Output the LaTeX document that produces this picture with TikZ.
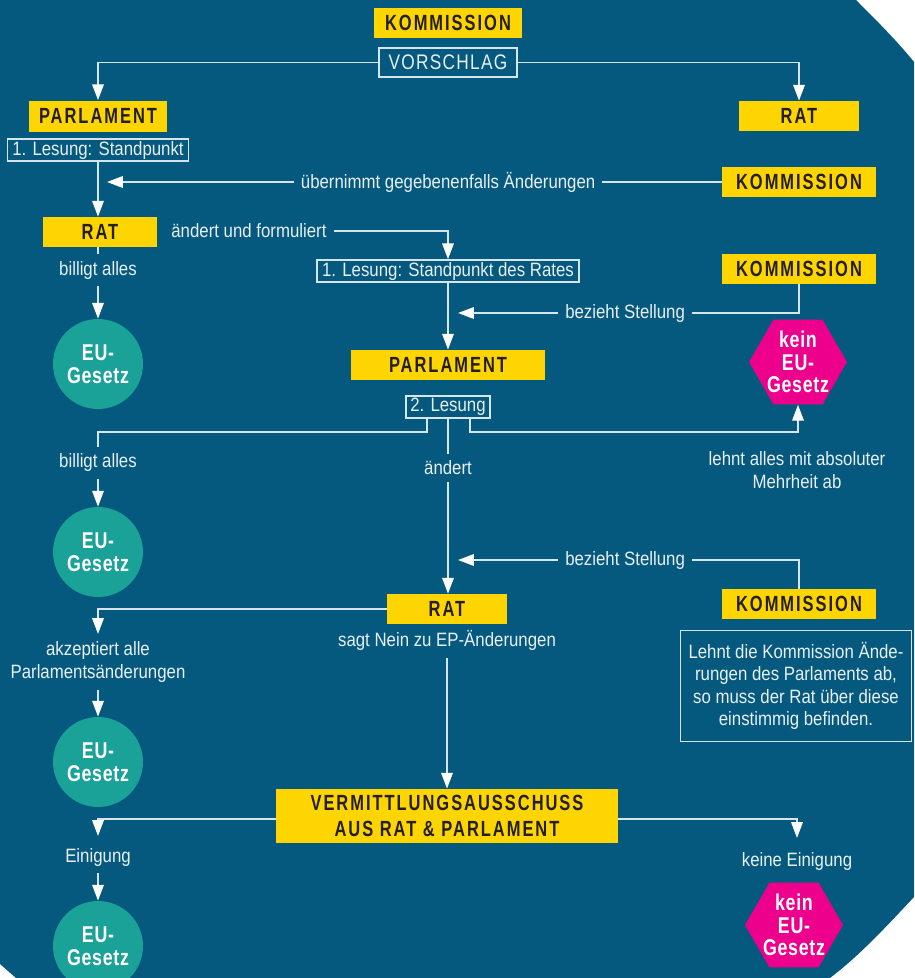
\documentclass[tikz,border=0pt]{standalone}
\usepackage{fontspec}
\setmainfont{Liberation Sans}[FakeStretch=0.87]
\newfontfamily\capsfont{Liberation Sans}[FakeStretch=0.75, LetterSpace=9]
\newfontfamily\eufont{Liberation Sans}[FakeStretch=0.78, LetterSpace=3]
\newfontfamily\vorfont{Liberation Sans}[FakeStretch=0.82, LetterSpace=6]
\usetikzlibrary{arrows.meta,shapes.geometric}
\definecolor{kbg}{RGB}{6,89,126}
\definecolor{kyellow}{RGB}{255,213,0}
\definecolor{kdark}{RGB}{35,31,32}
\definecolor{kteal}{RGB}{26,161,152}
\definecolor{kmagenta}{RGB}{236,0,140}
\definecolor{kline}{RGB}{214,230,238}
\definecolor{ktext}{RGB}{232,240,244}
\tikzset{
  ybox/.style={fill=kyellow, text=kdark, inner sep=0pt, minimum height=0.6cm,
    font=\capsfont\bfseries\fontsize{12.5}{14}\selectfont},
  wbox/.style={draw=kline, line width=0.9pt, text=ktext, inner sep=0pt, minimum height=0.44cm,
    font=\fontsize{11}{13}\selectfont},
  lbl/.style={fill=kbg, text=ktext, inner sep=4pt, align=center,
    font=\fontsize{11}{12.8}\selectfont},
  eu/.style={circle, fill=kteal, text=white, minimum size=1.8cm, inner sep=0pt, align=center,
    font=\eufont\bfseries\fontsize{13}{13}\selectfont},
  hexa/.style={regular polygon, regular polygon sides=6, fill=kmagenta, minimum size=1.96cm, inner sep=0pt},
  hexatext/.style={text=white, align=center, font=\eufont\bfseries\fontsize{13}{12.8}\selectfont},
  arr/.style={draw=kline, line width=1.1pt, -{Triangle[width=6.5pt,length=9pt,color=white]}},
}
\begin{document}
\begin{tikzpicture}[x=0.02cm, y=-0.02cm]
\useasboundingbox (0,0) rectangle (914,978);
\fill[white] (0,0) rectangle (914,978);
\fill[kbg] (0,0) -- (856,0) .. controls (878,22) and (898,42) .. (914,62) -- (914,897)
  .. controls (885,928) and (860,955) .. (830,978) -- (16,978) -- (0,964) -- cycle;

% Kommission und Vorschlag
\node[ybox, minimum width=2.96cm] (kom1) at (448,23) {KOMMISSION};
\node[wbox, minimum width=2.76cm, minimum height=0.58cm, font=\vorfont\fontsize{12}{13}\selectfont] (vor) at (448,62.5) {VORSCHLAG};
\node[ybox, minimum width=2.76cm, minimum height=0.62cm] (parl1) at (98,116) {PARLAMENT};
\node[ybox, minimum width=2.4cm] (rat1) at (799,116) {RAT};
\draw[arr] (vor.west) -| (parl1.north);
\draw[arr] (vor.east) -| (rat1.north);

% erste Lesung
\node[wbox, minimum width=3.62cm] (les1) at (98,150) {1. Lesung: Standpunkt};
\node[ybox, minimum width=3.08cm] (kom2) at (799,182) {KOMMISSION};
\coordinate (t1) at (107,182);
\draw[arr] (kom2.west) -- node[lbl, pos=0.445] {übernimmt gegebenenfalls Änderungen} (t1);
\node[ybox, minimum width=2.28cm] (rat2) at (100,232) {RAT};
\draw[arr] (les1.south) -- (les1.south |- rat2.north);
\node[eu] (eu1) at (98,364) {EU-\\Gesetz};
\draw[arr] (rat2.south -| les1.south) -- node[lbl, pos=0.32] {billigt alles} (eu1);
\node[lbl, anchor=west] (andf) at (164,231) {ändert und formuliert};
\node[wbox, minimum width=5.24cm] (les1rat) at (448,271) {1. Lesung: Standpunkt des Rates};
\draw[arr] (andf.east) -| (les1rat.north);
\node[ybox, minimum width=3.08cm] (kom3) at (799,269) {KOMMISSION};
\coordinate (t2) at (458,313);
\draw[arr] (kom3.south) |- node[lbl, pos=0.755] {bezieht Stellung} (t2);
\node[ybox, minimum width=3.9cm] (parl2) at (448,365) {PARLAMENT};
\draw[arr] (les1rat.south) -- (parl2.north);
\node[hexa] (kein1) at (798,362) {};
\node[hexatext] (kein1t) at (kein1) {kein\\EU-\\Gesetz};

% zweite Lesung
\node[wbox, minimum width=1.68cm] (les2) at (448,407) {2. Lesung};
\coordinate (j1) at (98,432);
\coordinate (j2) at (798,432);
\node[eu] (eu2) at (98,552) {EU-\\Gesetz};
\draw[arr] ([xshift=-0.42cm]les2.south) |- (j1) -- node[lbl, pos=0.41] {billigt alles} (eu2);
\draw[arr] ([xshift=0.44cm]les2.south) |- (j2) -- (kein1.south);
\node[lbl] (lehnt) at (797,470) {lehnt alles mit absoluter\\Mehrheit ab};
\node[ybox, minimum width=2.4cm] (rat3) at (447,609) {RAT};
\draw[arr] (les2.south) -- node[lbl, pos=0.28] {ändert} (les2.south |- rat3.north);
\node[ybox, minimum width=3.08cm] (kom4) at (799,604) {KOMMISSION};
\coordinate (t3) at (458,560);
\draw[arr] (kom4.north) |- node[lbl, pos=0.755] {bezieht Stellung} (t3);
\node[wbox, minimum width=4.62cm, minimum height=2.22cm, align=center, font=\fontsize{11}{12.8}\selectfont] (note) at (796,686)
  {Lehnt die Kommission Ände-\\rungen des Parlaments ab,\\so muss der Rat über diese\\einstimmig befinden.};

% Rat und Vermittlung
\coordinate (t4) at (98,634);
\draw[arr] (rat3.west) -| (t4);
\node[lbl] (akz) at (98,662) {akzeptiert alle\\Parlamentsänderungen};
\node[eu] (eu3) at (98,762) {EU-\\Gesetz};
\draw[arr] (akz) -- (eu3);
\node[ybox, minimum width=6.84cm, minimum height=1.08cm, align=center, font=\capsfont\bfseries\fontsize{12.5}{14.5}\selectfont] (verm) at (447,816)
  {VERMITTLUNGSAUSSCHUSS\\AUS RAT \& PARLAMENT};
\draw[arr] (rat3.south) -- node[lbl, pos=0.1] {sagt Nein zu EP-Änderungen} (verm.north);
\coordinate (t5) at (98,836);
\coordinate (t6) at (797,838);
\draw[arr] ([yshift=-0.06cm]verm.west) -| (t5);
\draw[arr] ([yshift=-0.06cm]verm.east) -| (t6);
\node[lbl] (eini) at (98,857) {Einigung};
\node[eu] (eu4) at (98,946) {EU-\\Gesetz};
\draw[arr] (eini) -- (eu4);
\node[lbl] (keine) at (797,861) {keine Einigung};
\node[hexa] (kein2) at (794,925) {};
\node[hexatext] (kein2t) at (kein2) {kein\\EU-\\Gesetz};
\end{tikzpicture}
\end{document}
